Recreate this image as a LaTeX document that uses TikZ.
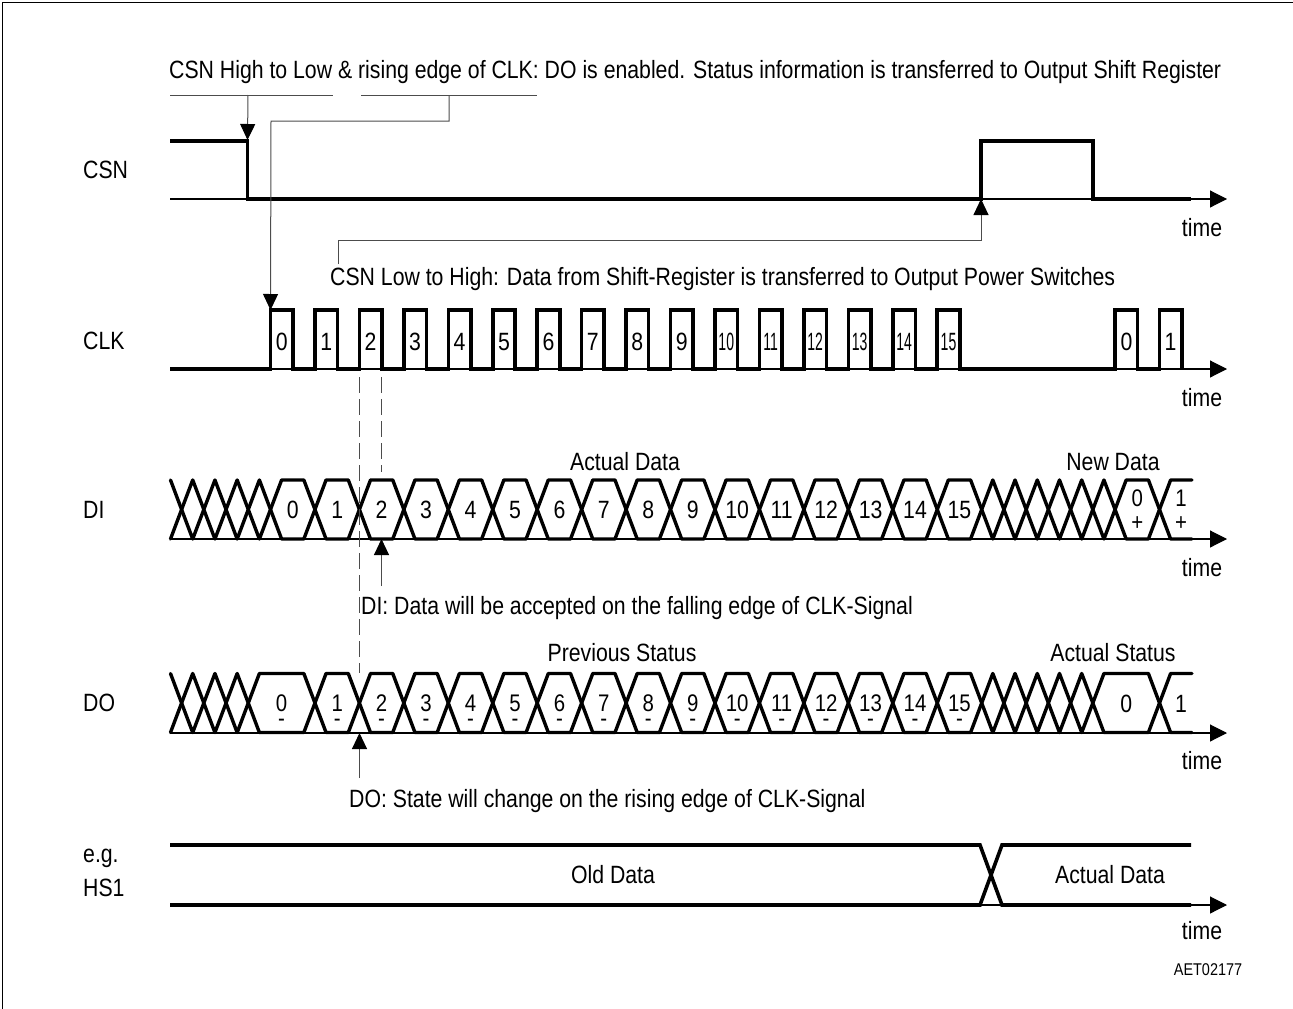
\documentclass[tikz,border=0pt]{standalone}
\usepackage{fontspec}
\setmainfont{Liberation Sans}[FakeStretch=0.85]
\usepackage{graphicx}
\usetikzlibrary{arrows.meta}
\newcommand{\sigfont}{\fontsize{25}{29}\selectfont}
\newcommand{\tagfont}{\fontsize{17}{20}\selectfont}
\newcommand{\clkx}{270.5}
\newcommand{\clkp}{44.45}
\newcommand{\halfp}{22.225}
\newcommand{\slant}{11.1}
\newcommand{\swing}{29.5}
\tikzset{
 every node/.append style={font=\sigfont,inner sep=1pt},
 sig/.style={line width=3.6pt,line join=miter},
 bus/.style={line width=3.4pt,line join=round,line cap=round},
 axis/.style={line width=1.1pt,-{Triangle[length=17pt,width=17pt]}},
 ann/.style={draw=black!70,line width=1pt,-{Triangle[length=16pt,width=15pt,color=black]}},
 bracket/.style={draw=black!70,line width=1pt},
 guide/.style={draw=black!70,line width=1pt,dash pattern=on 16pt off 6pt},
 tag/.style={anchor=west},
 note/.style={anchor=west},
 val/.style={text height=18pt,text depth=0pt},
 stack/.style={align=center,font=\fontsize{24}{24}\selectfont},
 minusval/.style={align=center,font=\fontsize{24}{15}\selectfont},
}
% one bus cell between two crossings, counted in half clock periods
\newcommand{\buscell}[3]{%
  \draw[bus] ({\clkx+\halfp*(#2)},#1) -- ({\clkx+\halfp*(#2)+\slant},#1-\swing)
    -- ({\clkx+\halfp*(#3)-\slant},#1-\swing) -- ({\clkx+\halfp*(#3)},#1)
    -- ({\clkx+\halfp*(#3)-\slant},#1+\swing) -- ({\clkx+\halfp*(#2)+\slant},#1+\swing) -- cycle;}

\begin{document}
\begin{tikzpicture}[x=1pt,y=-1pt]

\useasboundingbox (0,0) rectangle (1293,1009);
\draw[line width=1pt] (2,1009) -- (2,2) -- (1293,2);

% signal names
\node[tag] (csn) at (82,170) {CSN};
\node[tag] (clk) at (82,341) {CLK};
\node[tag] (di) at (82,510) {DI};
\node[tag] (do) at (82,703) {DO};
\node[tag] (eg) at (82,858) {e.g.};
\node[tag] (hs) at (82,888) {HS1};

% time axes
\foreach \y/\t in {199/csn,369/clk,539/di,733/do,905/hs}
  \draw[axis] (170,\y) -- (1227,\y);
\foreach \y/\t in {228/csn,398/clk,568/di,761/do,931/hs}
  \node (time\t) at (1202,\y) {time};

% CSN
\draw[sig] (170,141) -- (247.5,141) -- (247.5,199) -- (981,199) -- (981,141)
  -- (1093,141) -- (1093,199) -- (1191,199);

% CLK
\draw[sig] (170,369) foreach \k in {0,...,15}{
  -- ({\clkx+\clkp*\k},369) -- ({\clkx+\clkp*\k},310) -- ({\clkx+\clkp*\k+22.5},310) -- ({\clkx+\clkp*\k+22.5},369)}
  -- (1115,369) -- (1115,310) -- (1137.5,310) -- (1137.5,369)
  -- (1159.5,369) -- (1159.5,310) -- (1182,310) -- (1182,369);
\foreach \k in {0,...,15}
  \node[val] (clk\k) at ({\clkx+\clkp*\k+11.25},341) {\ifnum\k>9 \scalebox{0.66}[1]{\k}\else\k\fi};
\node[val] (clknew0) at (1126.5,341) {0};
\node[val] (clknew1) at (1170.5,341) {1};

% DI
\draw[bus] (170.5,480) -- ({\clkx-4*\halfp},509.5) -- (170.5,539);
\foreach \n in {-4,...,-1} \buscell{509.5}{\n}{\n+1};
\foreach \n in {0,2,...,30} \buscell{509.5}{\n}{\n+2};
\foreach \n in {32,...,37} \buscell{509.5}{\n}{\n+1};
\buscell{509.5}{38}{40};
\draw[bus] (1192,480) -- ({\clkx+40*\halfp+\slant},480) -- ({\clkx+40*\halfp},509.5)
  -- ({\clkx+40*\halfp+\slant},539) -- (1192,539);
\foreach \k in {0,...,15}
  \node[val] (di\k) at ({\clkx+\halfp*(2*\k+1)},509.5) {\k};
\node[stack] (dinew0) at ({\clkx+39*\halfp},510) {0\\+};
\node[stack] (dinew1) at (1181,510) {1\\+};
\node (actual) at (625,462) {Actual Data};
\node (newdata) at (1113,462) {New Data};

% DO
\draw[bus] (170.5,673.5) -- ({\clkx-4*\halfp},703) -- (170.5,732.5);
\foreach \n in {-4,...,-2} \buscell{703}{\n}{\n+1};
\buscell{703}{-1}{2};
\foreach \n in {2,4,...,30} \buscell{703}{\n}{\n+2};
\foreach \n in {32,...,36} \buscell{703}{\n}{\n+1};
\buscell{703}{37}{40};
\draw[bus] (1192,673.5) -- ({\clkx+40*\halfp+\slant},673.5) -- ({\clkx+40*\halfp},703)
  -- ({\clkx+40*\halfp+\slant},732.5) -- (1192,732.5);
\node[minusval] (do0) at ({\clkx+0.5*\halfp},711) {0\\-};
\foreach \k in {1,...,15}
  \node[minusval] (do\k) at ({\clkx+\halfp*(2*\k+1)},711) {\k\\-};
\node[val] (donew0) at ({\clkx+38.5*\halfp},703) {0};
\node[val] (donew1) at (1181,703) {1};
\node (previous) at (622,653) {Previous Status};
\node (status) at (1113,653) {Actual Status};

% HS1
\draw[sig] (170,845) -- (980,845) -- (1002,905) -- (1191,905);
\draw[sig] (170,905) -- (980,905) -- (1002,845) -- (1191,845);
\node (old) at (613,875) {Old Data};
\node (hsact) at (1110,875) {Actual Data};

% notes and their pointers
\node[note] (topnote) at (168,72) {CSN High to Low \& rising edge of CLK: DO is enabled. Status information is transferred to Output Shift Register};
\coordinate (brA1) at (170,95);
\coordinate (brA2) at (333,95);
\coordinate (brB1) at (361,95);
\coordinate (brB2) at (537,95);
\draw[bracket] (brA1) -- (brA2);
\draw[bracket] (brB1) -- (brB2);
\coordinate (csnfall) at (247.5,140);
\coordinate (clkrise) at (270.5,310);
\draw[ann] (248,95) -- (csnfall);
\draw[ann] (449,95) |- (271,121) -- (clkrise);

\node[note] (latchnote) at (329,279) {CSN Low to High: Data from Shift-Register is transferred to Output Power Switches};
\coordinate (latchfoot) at (338,264);
\coordinate (latchbend) at (981,240);
\coordinate (csnrise) at (981,199);
\draw[ann] (latchfoot) |- (latchbend) -- (csnrise);

\draw[guide] (359.5,377) -- (359.5,673);
\draw[guide] (381.5,377) -- (381.5,472);

\node[note] (dinote) at (360,608) {DI: Data will be accepted on the falling edge of CLK-Signal};
\coordinate (difall) at (381.5,539);
\draw[ann] (381.5,586) -- (difall);

\node[note] (donote) at (348,801) {DO: State will change on the rising edge of CLK-Signal};
\coordinate (dorise) at (359.5,733);
\draw[ann] (359.5,778) -- (dorise);

\node[font=\tagfont] (code) at (1208,970) {AET02177};

\end{tikzpicture}
\end{document}
